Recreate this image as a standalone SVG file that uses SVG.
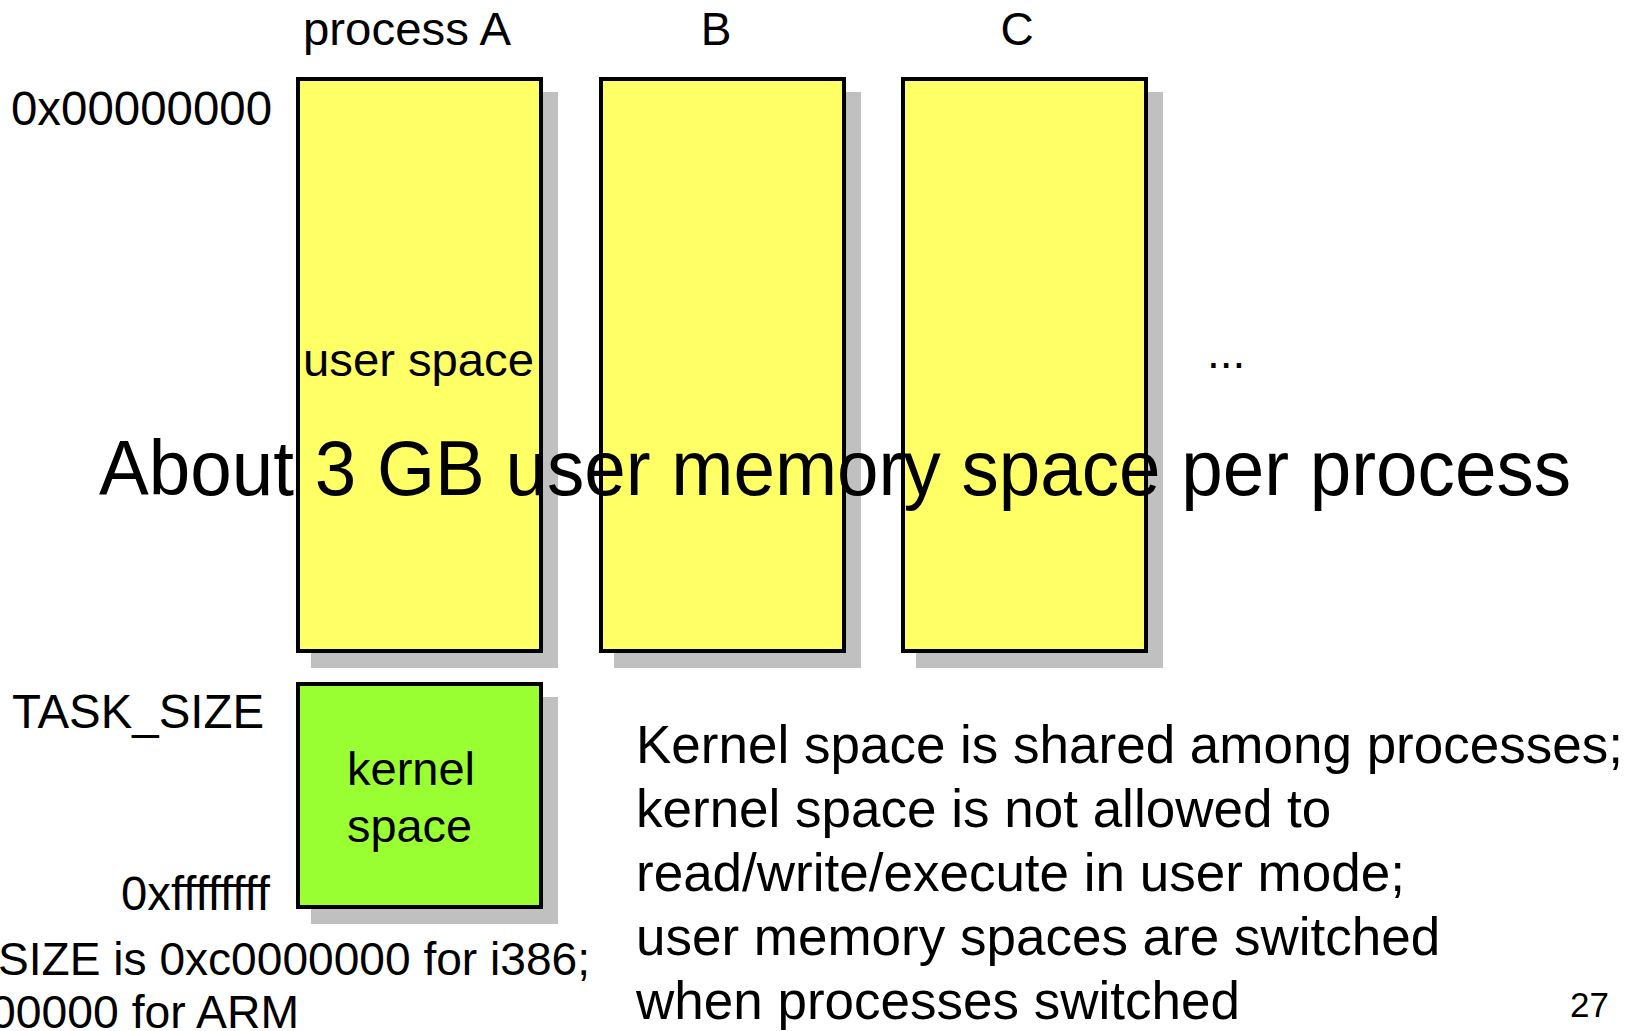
<svg xmlns="http://www.w3.org/2000/svg" width="1644" height="1031" viewBox="0 0 1644 1031">
  <style>
    text { font-family: "Liberation Sans", Arial, sans-serif; fill: #000; }
    .shadow { fill: #c0c0c0; stroke: none; }
    .user { fill: #ffff66; stroke: #000; stroke-width: 4; }
    .kernel { fill: #99ff33; stroke: #000; stroke-width: 4; }
    .hdr { font-size: 46px; }
    .addr { font-size: 48px; }
    .lbl { font-size: 46px; }
    .big { font-size: 77px; }
    .note { font-size: 53px; }
  </style>
  <rect width="1644" height="1031" fill="#fff"/>

  <!-- process A address space -->
  <g id="process-a">
    <rect class="shadow" x="311" y="92" width="247" height="576"/>
    <rect class="user" x="298" y="79" width="243" height="572"/>
    <text class="hdr" x="303" y="45" textLength="208" lengthAdjust="spacingAndGlyphs">process A</text>
    <text class="lbl" x="303" y="376" textLength="231" lengthAdjust="spacingAndGlyphs">user space</text>
  </g>

  <!-- process B address space -->
  <g id="process-b">
    <rect class="shadow" x="614" y="92" width="247" height="576"/>
    <rect class="user" x="601" y="79" width="243" height="572"/>
    <text class="hdr" x="716" y="45" text-anchor="middle">B</text>
  </g>

  <!-- process C address space -->
  <g id="process-c">
    <rect class="shadow" x="916" y="92" width="247" height="576"/>
    <rect class="user" x="903" y="79" width="243" height="572"/>
    <text class="hdr" x="1017" y="45" text-anchor="middle">C</text>
  </g>

  <!-- shared kernel space -->
  <g id="kernel-space">
    <rect class="shadow" x="311" y="697" width="247" height="227"/>
    <rect class="kernel" x="298" y="684" width="243" height="223"/>
    <text class="lbl" x="347" y="785" textLength="128" lengthAdjust="spacingAndGlyphs">kernel</text>
    <text class="lbl" x="347" y="842" textLength="125" lengthAdjust="spacingAndGlyphs">space</text>
  </g>

  <!-- address labels -->
  <g id="addresses">
    <text class="addr" x="11" y="125" textLength="261" lengthAdjust="spacingAndGlyphs">0x00000000</text>
    <text class="addr" x="12" y="728" textLength="252" lengthAdjust="spacingAndGlyphs">TASK_SIZE</text>
    <text class="addr" x="121" y="910" textLength="149" lengthAdjust="spacingAndGlyphs">0xffffffff</text>
  </g>

  <g id="more-processes">
    <text class="lbl" x="1207" y="368">...</text>
  </g>

  <g id="caption">
    <text class="big" x="99" y="495" textLength="1472" lengthAdjust="spacingAndGlyphs">About 3 GB user memory space per process</text>
  </g>

  <g id="task-size-note">
    <text class="lbl" x="-2" y="975" textLength="592" lengthAdjust="spacingAndGlyphs">SIZE is 0xc0000000 for i386;</text>
    <text class="lbl" x="-10" y="1028" textLength="309" lengthAdjust="spacingAndGlyphs">00000 for ARM</text>
  </g>

  <g id="notes">
    <text class="note" x="636" y="763">Kernel space is shared among processes;</text>
    <text class="note" x="636" y="827">kernel space is not allowed to</text>
    <text class="note" x="636" y="891">read/write/execute in user mode;</text>
    <text class="note" x="636" y="955">user memory spaces are switched</text>
    <text class="note" x="636" y="1019">when processes switched</text>
  </g>

  <g id="page-number">
    <text x="1570" y="1017" font-size="35">27</text>
  </g>
</svg>
